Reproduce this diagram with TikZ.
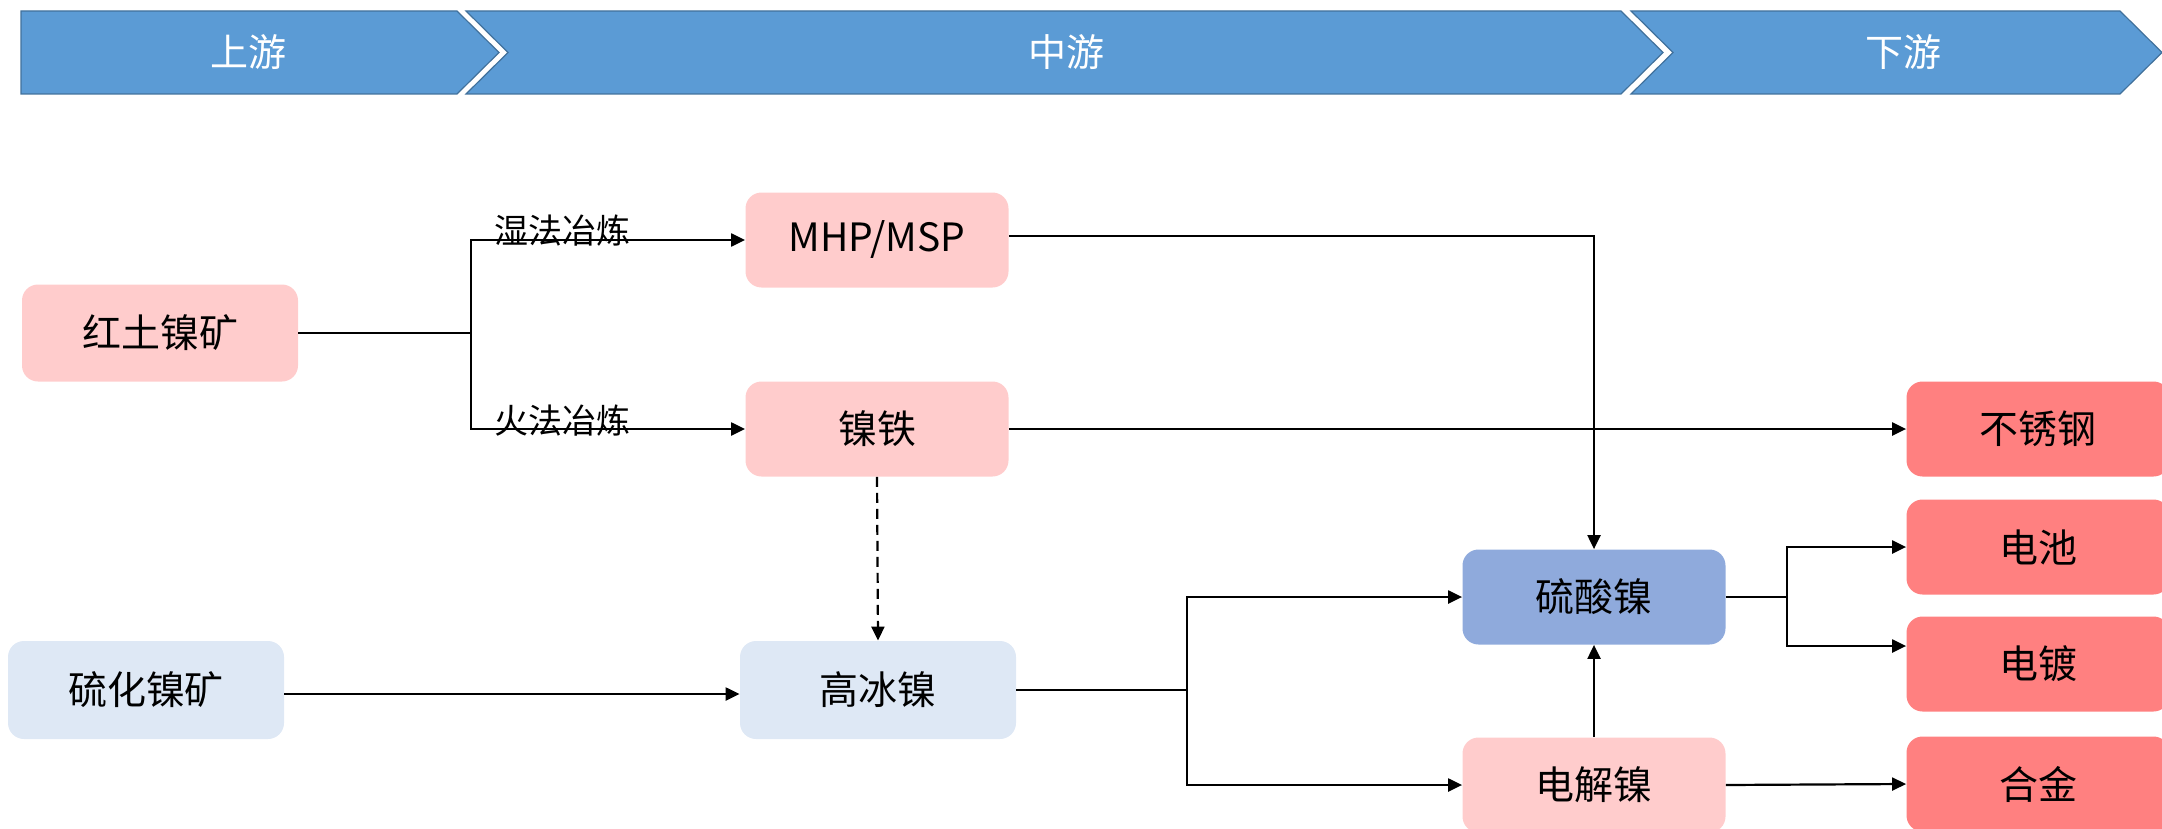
\documentclass[tikz,border=0pt]{standalone}
\usepackage{fontspec}
\setmainfont{Noto Sans CJK SC}
\usetikzlibrary{arrows.meta}
\definecolor{hdrfill}{RGB}{91,155,213}
\definecolor{hdrline}{RGB}{65,113,156}
\definecolor{pinkc}{RGB}{255,204,204}
\definecolor{lightblue}{RGB}{222,232,245}
\definecolor{midblue}{RGB}{143,170,220}
\definecolor{redc}{RGB}{255,128,128}
\begin{document}
\begin{tikzpicture}[x=0.5pt,y=-0.5pt,
  box/.style={rounded corners=8pt, minimum width=131.5pt, minimum height=47.5pt, inner sep=0pt, font=\fontsize{19.5}{19.5}\selectfont},
  pinkbox/.style={box, fill=pinkc},
  bluebox/.style={box, fill=lightblue, minimum width=138pt, minimum height=49pt},
  darkbox/.style={box, fill=midblue},
  redbox/.style={box, fill=redc},
  chev/.style={fill=hdrfill, draw=hdrline, line width=0.6pt},
  hdrtxt/.style={text=white, font=\fontsize{19}{19}\selectfont},
  lbl/.style={font=\fontsize{17}{17}\selectfont, inner sep=0pt},
  plain/.style={line width=1.1pt},
  conn/.style={line width=1.1pt, -{Triangle[length=7pt,width=6.5pt]}},
]
\useasboundingbox (0,0) rectangle (2162,829);
% header chevrons
\draw[chev] (21,11) -- (457,11) -- (499,52.5) -- (457,94) -- (21,94) -- cycle;
\draw[chev] (466,11) -- (1621,11) -- (1663,52.5) -- (1621,94) -- (466,94) -- (508,52.5) -- cycle;
\draw[chev] (1631,11) -- (2120,11) -- (2162,52.5) -- (2120,94) -- (1631,94) -- (1673,52.5) -- cycle;
\node[hdrtxt] (up) at (248,52) {上游};
\node[hdrtxt] (mid) at (1066,52) {中游};
\node[hdrtxt] (down) at (1903,52) {下游};
% boxes
\node[pinkbox, minimum width=138pt, minimum height=48.5pt] (hong) at (160,333) {红土镍矿};
\node[pinkbox] (mhp) at (877,240) {MHP/MSP};
\node[pinkbox] (nt) at (877,429) {镍铁};
\node[bluebox] (liuhua) at (146,690) {硫化镍矿};
\node[bluebox] (gbn) at (878,690) {高冰镍};
\node[darkbox] (lsn) at (1594,597) {硫酸镍};
\node[pinkbox] (djn) at (1594,785) {电解镍};
\node[redbox] (bxg) at (2038,429) {不锈钢};
\node[redbox] (dc) at (2038,547) {电池};
\node[redbox] (dd) at (2038,664) {电镀};
\node[redbox] (hj) at (2038,784) {合金};
% connectors
\coordinate (j1) at (471,333);
\draw[plain] (hong.east) -- (j1);
\draw[conn] (j1) |- (mhp.west);
\draw[conn] (j1) |- (nt.west);
\node[lbl] (l1) at (562,231) {湿法冶炼};
\node[lbl] (l2) at (562,421) {火法冶炼};
\draw[conn] ([yshift=2pt]mhp.east) -| (lsn.north);
\draw[conn] (nt.east) -- (bxg.west);
\draw[conn, dash pattern=on 5pt off 3pt] (nt.south) -- (gbn.north);
\draw[conn] ([yshift=-2pt]liuhua.east) -- ([yshift=-2pt]gbn.west);
\coordinate (j2) at (1187,690);
\draw[plain] (gbn.east) -- (j2);
\draw[conn] (j2) |- (lsn.west);
\draw[conn] (j2) |- (djn.west);
\draw[conn] (djn.north) -- (lsn.south);
\coordinate (j3) at (1787,597);
\draw[plain] (lsn.east) -- (j3);
\draw[conn] (j3) |- (dc.west);
\draw[conn] (j3) |- ([yshift=9pt]dd.west);
\draw[conn] (djn.east) -- (hj.west);
\end{tikzpicture}
\end{document}
